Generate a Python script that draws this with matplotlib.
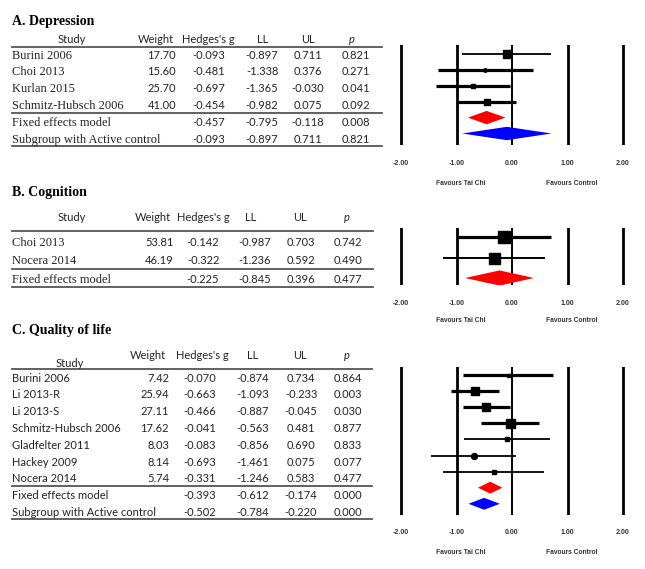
import matplotlib
matplotlib.use("Agg")
import matplotlib.pyplot as plt
from matplotlib.lines import Line2D

# ---------------- data ----------------
A_studies = ["Burini 2006", "Choi 2013", "Kurlan 2015", "Schmitz-Hubsch 2006"]
A_weight = [17.70, 15.60, 25.70, 41.00]
A_g = [-0.093, -0.481, -0.697, -0.454]
A_ll = [-0.897, -1.338, -1.365, -0.982]
A_ul = [0.711, 0.376, -0.030, 0.075]
A_p = [0.821, 0.271, 0.041, 0.092]
A_sum_labels = ["Fixed effects model", "Subgroup with Active control"]
A_sum_g = [-0.457, -0.093]
A_sum_ll = [-0.795, -0.897]
A_sum_ul = [-0.118, 0.711]
A_sum_p = [0.008, 0.821]

B_studies = ["Choi 2013", "Nocera 2014"]
B_weight = [53.81, 46.19]
B_g = [-0.142, -0.322]
B_ll = [-0.987, -1.236]
B_ul = [0.703, 0.592]
B_p = [0.742, 0.490]
B_sum_labels = ["Fixed effects model"]
B_sum_g = [-0.225]
B_sum_ll = [-0.845]
B_sum_ul = [0.396]
B_sum_p = [0.477]

C_studies = ["Burini 2006", "Li 2013-R", "Li 2013-S", "Schmitz-Hubsch 2006",
             "Gladfelter 2011", "Hackey 2009", "Nocera 2014"]
C_weight = [7.42, 25.94, 27.11, 17.62, 8.03, 8.14, 5.74]
C_g = [-0.070, -0.663, -0.466, -0.041, -0.083, -0.693, -0.331]
C_ll = [-0.874, -1.093, -0.887, -0.563, -0.856, -1.461, -1.246]
C_ul = [0.734, -0.233, -0.045, 0.481, 0.690, 0.075, 0.583]
C_p = [0.864, 0.003, 0.030, 0.877, 0.833, 0.077, 0.477]
C_sum_labels = ["Fixed effects model", "Subgroup with Active control"]
C_sum_g = [-0.393, -0.502]
C_sum_ll = [-0.612, -0.784]
C_sum_ul = [-0.174, -0.220]
C_sum_p = [0.000, 0.000]

titles = ["A. Depression", "B. Cognition", "C. Quality of life"]
headers = ["Study", "Weight", "Hedges's g", "LL", "UL", "p"]
tick_vals = [-2, -1, 0, 1, 2]
tick_labels = ["-2.00", "-1.00", "0.00", "1.00", "2.00"]
favours = ["Favours Tai Chi", "Favours Control"]

# ---------------- styles / layout ----------------
W, H = 645, 569
SANS = "Lato"
SERIF = "Liberation Serif"
TXT = "#222222"
RULE = "#555555"

fig = plt.figure(figsize=(W / 100, H / 100), dpi=100)
fig.patch.set_facecolor("white")
bg = fig.add_axes([0, 0, 1, 1])
bg.set_xlim(0, W)
bg.set_ylim(H, 0)
bg.axis("off")

panels = [
    dict(studies=A_studies, weight=A_weight, g=A_g, ll=A_ll, ul=A_ul, p=A_p,
         slab=A_sum_labels, sg=A_sum_g, sll=A_sum_ll, sul=A_sum_ul, sp=A_sum_p,
         name_font=SERIF, name_size=9, title_y=20, head_y=38, study_head_y=38, top_rule=47,
         row0=54, drow=16.8, bottom_rule=146, rule_end=382,
         cols=[176, 209, 262, 308, 356], hcols=[72, 156, 208, 263, 308, 352],
         f_row0=54, f_drow=15.9, f_top=45, f_bot=145, tick_y=163, fav_y=183,
         msize=[8, 3.5, 5, 6], marker=["s", "o", "s", "s"],
         lw=[1.3, 2.3, 2.3, 2.3], dh=0.42,
         dcol=["#ff0000", "#0000ff"]),
    dict(studies=B_studies, weight=B_weight, g=B_g, ll=B_ll, ul=B_ul, p=B_p,
         slab=B_sum_labels, sg=B_sum_g, sll=B_sum_ll, sul=B_sum_ul, sp=B_sum_p,
         name_font=SERIF, name_size=9, title_y=191, head_y=216, study_head_y=216, top_rule=231,
         row0=241, drow=18.5, bottom_rule=287, rule_end=373,
         cols=[174, 203, 255, 301, 348], hcols=[72, 153, 203, 251, 300, 347],
         f_row0=237, f_drow=20.5, f_top=228, f_bot=285, tick_y=303, fav_y=320,
         msize=[12, 11], marker=["s", "s"], lw=[2.3, 1.4], dh=0.37,
         dcol=["#ff0000"]),
    dict(studies=C_studies, weight=C_weight, g=C_g, ll=C_ll, ul=C_ul, p=C_p,
         slab=C_sum_labels, sg=C_sum_g, sll=C_sum_ll, sul=C_sum_ul, sp=C_sum_p,
         name_font=SANS, name_size=8, title_y=329, head_y=354, study_head_y=362, top_rule=369,
         row0=377, drow=16.8, bottom_rule=519, rule_end=372,
         cols=[169, 200, 253, 301, 348], hcols=[70, 148, 202, 253, 300, 347],
         f_row0=375, f_drow=16.1, f_top=367, f_bot=515, tick_y=532, fav_y=552,
         msize=[3, 8, 8, 9, 5, 6, 4], marker=["s", "s", "s", "s", "s", "o", "s"],
         lw=[2.3, 2.3, 2.3, 2.3, 1.3, 1.3, 1.3], dh=0.37,
         dcol=["#ff0000", "#0000ff"]),
]

X0PX, PXU, XL = 512, 55.5, 2.3   # zero position, px per unit, half-range

for k, P in enumerate(panels):
    # title
    bg.text(12, P["title_y"], titles[k], fontfamily=SERIF, fontweight="bold",
            fontsize=10, color="black", va="center_baseline", ha="left")
    # headers
    for j, h in enumerate(headers):
        y = P["study_head_y"] if j == 0 else P["head_y"]
        bg.text(P["hcols"][j], y, h, fontfamily=SANS, fontsize=8, color=TXT,
                ha="center", va="center_baseline",
                fontstyle="italic" if h == "p" else "normal")
    # rules
    n = len(P["studies"])
    mid_rule = P["row0"] + (n - 0.5) * P["drow"]
    for yr in (P["top_rule"], mid_rule, P["bottom_rule"]):
        bg.add_line(Line2D([12, P["rule_end"]], [yr, yr], color=RULE, lw=1.3))
    # study rows
    for i, s in enumerate(P["studies"]):
        y = P["row0"] + i * P["drow"]
        bg.text(12, y, s, fontfamily=P["name_font"], fontsize=P["name_size"], color=TXT,
                ha="left", va="center_baseline")
        bg.text(P["cols"][0], y, f"{P['weight'][i]:.2f}", fontfamily=SANS,
                fontsize=8, color=TXT, ha="right", va="center_baseline")
        for c, v in zip(P["cols"][1:], (P["g"][i], P["ll"][i], P["ul"][i], P["p"][i])):
            bg.text(c, y, f"{v:.3f}", fontfamily=SANS, fontsize=8, color=TXT,
                    ha="center", va="center_baseline")
    for i, s in enumerate(P["slab"]):
        y = P["row0"] + (n + i) * P["drow"]
        bg.text(12, y, s, fontfamily=P["name_font"], fontsize=P["name_size"], color=TXT,
                ha="left", va="center_baseline")
        for c, v in zip(P["cols"][1:], (P["sg"][i], P["sll"][i], P["sul"][i], P["sp"][i])):
            bg.text(c, y, f"{v:.3f}", fontfamily=SANS, fontsize=8, color=TXT,
                    ha="center", va="center_baseline")

    # forest axes
    x0 = X0PX - XL * PXU
    x1 = X0PX + XL * PXU
    ax = fig.add_axes([x0 / W, 1 - P["f_bot"] / H, (x1 - x0) / W,
                       (P["f_bot"] - P["f_top"]) / H])
    ax.set_xlim(-XL, XL)
    rb = (P["f_bot"] - P["f_row0"]) / P["f_drow"]
    rt = (P["f_top"] - P["f_row0"]) / P["f_drow"]
    ax.set_ylim(rb, rt)
    ax.patch.set_alpha(0)
    for sp in ax.spines.values():
        sp.set_visible(False)
    ax.set_yticks([])
    ax.set_xticks(tick_vals)
    ax.set_xticklabels(tick_labels, fontfamily="Liberation Sans", fontweight="bold",
                       fontsize=5, color="#333333")
    ax.tick_params(axis="x", length=0, pad=(P["tick_y"] - P["f_bot"] - 3) * 0.72)
    for tv in tick_vals:
        ax.axvline(tv, color="black", lw=1.4 if tv == 0 else 2.0, zorder=1)

    for i in range(n):
        ax.plot([P["ll"][i], P["ul"][i]], [i, i], color="black", lw=P["lw"][i],
                solid_capstyle="butt", zorder=2)
        ax.plot([P["g"][i]], [i], marker=P["marker"][i], color="black",
                markersize=P["msize"][i] * 0.72, zorder=3)
    for i in range(len(P["slab"])):
        r = n + i
        ax.fill([P["sll"][i], P["sg"][i], P["sul"][i], P["sg"][i]],
                [r, r - P["dh"], r, r + P["dh"]], color=P["dcol"][i], lw=0, zorder=3)

    # favours labels
    for fxu, lab in zip((-0.93, 1.07), favours):
        bg.text(X0PX + fxu * PXU, P["fav_y"], lab, fontfamily="Liberation Sans",
                fontweight="bold", fontsize=4.8, color="#333333", ha="center",
                va="center")

fig.savefig("out.png", dpi=100, facecolor="white")
